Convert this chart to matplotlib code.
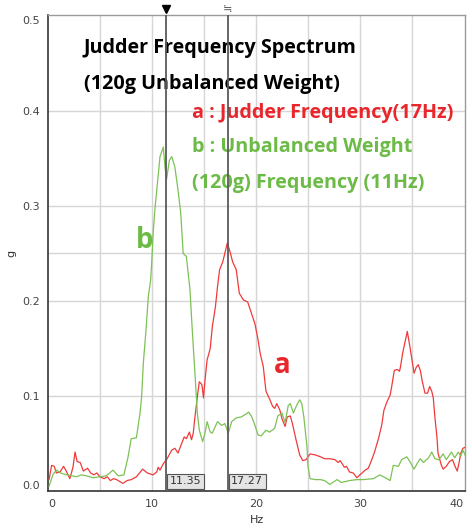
import matplotlib
matplotlib.use('Agg')
import matplotlib.pyplot as plt
import numpy as np

# unbalanced weight (120g) spectrum, b
freq_b = [0.1, 0.5, 0.83, 1.2, 1.8, 2.3, 2.76, 3.2, 3.7, 4.3, 5.0, 5.6, 6.25, 6.75, 7.3, 7.7,
          8.0, 8.5, 8.85, 9.0, 9.17, 9.42, 9.65, 9.87, 9.97, 10.13, 10.3, 10.55, 10.77, 11.09,
          11.25, 11.4, 11.67, 11.9, 12.2, 12.5, 12.76, 13.0, 13.3, 13.65, 13.8, 13.97, 14.13,
          14.36, 14.55, 14.87, 15.1, 15.3, 15.6, 15.8, 16.3, 16.7, 17.0, 17.34, 17.66, 18.1,
          18.6, 19.3, 19.6, 19.9, 20.2, 20.5, 20.96, 21.3, 21.8, 22.1, 22.5, 22.8, 23.1, 23.3,
          23.6, 23.9, 24.2, 24.4, 24.6, 24.9, 25.0, 25.2, 25.7, 26.2, 26.6, 27.1, 27.8, 28.2,
          29.0, 29.7, 30.3, 31.3, 31.9, 32.6, 32.9, 33.2, 33.7, 34.0, 34.5, 34.8, 35.2, 35.5,
          35.8, 36.1, 36.6, 36.9, 37.2, 37.6, 38.0, 38.3, 38.8, 39.1, 39.45, 39.7, 39.9, 40.1]
amp_b = [0.005, 0.018, 0.022, 0.019, 0.017, 0.016, 0.015, 0.017, 0.016, 0.014, 0.015, 0.016,
         0.022, 0.016, 0.017, 0.036, 0.055, 0.056, 0.082, 0.099, 0.135, 0.169, 0.205, 0.222,
         0.240, 0.275, 0.299, 0.327, 0.352, 0.362, 0.341, 0.328, 0.348, 0.352, 0.341, 0.317,
         0.293, 0.250, 0.247, 0.212, 0.183, 0.152, 0.124, 0.082, 0.064, 0.052, 0.061, 0.073,
         0.062, 0.061, 0.073, 0.069, 0.071, 0.061, 0.073, 0.077, 0.078, 0.083, 0.078, 0.069,
         0.059, 0.058, 0.064, 0.062, 0.066, 0.079, 0.082, 0.072, 0.090, 0.092, 0.082, 0.090,
         0.096, 0.092, 0.078, 0.047, 0.026, 0.013, 0.012, 0.012, 0.011, 0.007, 0.012, 0.009,
         0.011, 0.012, 0.012, 0.013, 0.017, 0.013, 0.011, 0.027, 0.026, 0.033, 0.036, 0.031,
         0.023, 0.029, 0.034, 0.030, 0.035, 0.041, 0.034, 0.033, 0.039, 0.033, 0.041, 0.035,
         0.041, 0.037, 0.043, 0.038]

# judder spectrum, a
freq_a = [0.1, 0.35, 0.6, 0.8, 1.15, 1.5, 1.8, 2.1, 2.4, 2.6, 2.8, 3.1, 3.4, 3.8, 4.1, 4.4,
          4.7, 5.0, 5.4, 5.7, 6.0, 6.3, 6.6, 6.9, 7.2, 7.6, 8.0, 8.5, 9.1, 9.55, 10.1, 10.45,
          10.6, 10.77, 11.1, 11.4, 11.9, 12.2, 12.5, 12.85, 13.1, 13.3, 13.6, 13.8, 13.97, 14.1,
          14.36, 14.55, 14.8, 14.95, 15.1, 15.3, 15.6, 15.8, 16.1, 16.3, 16.5, 16.8, 17.0, 17.24,
          17.5, 17.76, 18.1, 18.4, 18.8, 19.2, 19.5, 19.9, 20.2, 20.4, 20.7, 20.96, 21.3, 21.6,
          21.8, 22.0, 22.3, 22.5, 22.8, 23.0, 23.3, 23.5, 23.85, 24.2, 24.5, 24.8, 25.2, 25.7,
          26.2, 26.6, 27.1, 27.6, 27.9, 28.1, 28.5, 28.7, 29.0, 29.35, 29.7, 29.9, 30.2, 30.5,
          30.8, 31.1, 31.4, 31.8, 32.1, 32.3, 32.6, 32.9, 33.05, 33.3, 33.6, 33.8, 33.9, 34.1,
          34.3, 34.55, 34.8, 34.97, 35.2, 35.4, 35.6, 35.8, 36.0, 36.25, 36.5, 36.7, 36.9, 37.05,
          37.2, 37.4, 37.5, 37.8, 38.0, 38.3, 38.6, 38.9, 39.1, 39.35, 39.55, 39.7, 39.9, 40.1]
amp_a = [0.012, 0.027, 0.026, 0.019, 0.020, 0.026, 0.020, 0.013, 0.025, 0.041, 0.031, 0.030,
         0.021, 0.024, 0.019, 0.017, 0.019, 0.015, 0.013, 0.015, 0.011, 0.013, 0.012, 0.010,
         0.008, 0.011, 0.012, 0.015, 0.023, 0.019, 0.017, 0.020, 0.025, 0.022, 0.029, 0.033,
         0.043, 0.045, 0.040, 0.050, 0.057, 0.055, 0.062, 0.054, 0.061, 0.075, 0.099, 0.115,
         0.112, 0.098, 0.117, 0.138, 0.150, 0.173, 0.194, 0.215, 0.233, 0.241, 0.250, 0.261,
         0.252, 0.241, 0.233, 0.208, 0.201, 0.199, 0.189, 0.176, 0.159, 0.145, 0.131, 0.105,
         0.097, 0.089, 0.087, 0.092, 0.085, 0.076, 0.068, 0.078, 0.079, 0.071, 0.054, 0.038,
         0.032, 0.033, 0.039, 0.038, 0.036, 0.034, 0.034, 0.033, 0.030, 0.032, 0.025, 0.026,
         0.020, 0.019, 0.014, 0.016, 0.019, 0.022, 0.024, 0.032, 0.041, 0.056, 0.070, 0.085,
         0.094, 0.101, 0.110, 0.127, 0.128, 0.126, 0.131, 0.145, 0.155, 0.168, 0.152, 0.140,
         0.124, 0.130, 0.133, 0.127, 0.115, 0.103, 0.103, 0.110, 0.105, 0.098, 0.078, 0.057,
         0.040, 0.028, 0.023, 0.026, 0.031, 0.033, 0.027, 0.021, 0.031, 0.040, 0.045, 0.046]

cursors = [11.35, 17.27]
xticks = [0, 10, 20, 30, 40]
yticks = [0.0, 0.1, 0.2, 0.3, 0.4, 0.5]

RED = '#f03a3a'
GREEN = '#7cc255'
RED_TXT = '#e8262c'
GREEN_TXT = '#6cbb47'

fig = plt.figure(figsize=(4.72, 5.29), dpi=100)
ax = fig.add_axes([0.1017, 0.0718, 0.8835, 0.8998])
ax.set_xlim(0, 40.1)
ax.set_ylim(0, 0.501)

# grid
for gx in np.arange(5, 40, 5):
    ax.axvline(gx, color='#d6d6d6', lw=1.0, zorder=0)
for gy in [0.1, 0.2, 0.25, 0.3, 0.4]:
    ax.axhline(gy, color='#d6d6d6', lw=1.0, zorder=0)

ax.plot(freq_a, amp_a, color=RED, lw=0.9, zorder=3)
ax.plot(freq_b, amp_b, color=GREEN, lw=0.9, zorder=3)

# cursors
for c in cursors:
    ax.axvline(c, color='#5a5a5a', lw=1.3, zorder=4)
    ax.annotate(f'{c:.2f}', xy=(c, 0), xytext=(2.5, 3.5), textcoords='offset points',
                ha='left', va='bottom', fontsize=8, color='#333333', zorder=5,
                bbox=dict(boxstyle='square,pad=0.22', facecolor='#e4e4e4',
                          edgecolor='#555555', lw=0.8))
ax.plot([cursors[0]], [0.507], marker='v', color='black', markersize=6, clip_on=False)
ax.text(cursors[1], 0.507, '≒', ha='center', va='center', fontsize=8, color='#555555',
        family='DejaVu Sans', clip_on=False)

# axes styling
for side in ['left', 'bottom']:
    ax.spines[side].set_color('#333333')
    ax.spines[side].set_linewidth(1.2)
for side in ['top', 'right']:
    ax.spines[side].set_color('#9a9a9a')
    ax.spines[side].set_linewidth(1.0)
ax.set_xticks(xticks)
ax.set_yticks(yticks)
ax.set_xticklabels([str(t) for t in xticks])
ax.set_yticklabels([f'{t:.1f}' for t in yticks])
ax.tick_params(length=0, labelsize=8, labelcolor='#444444', pad=6)
ax.get_yticklabels()[0].set_va('bottom')
ax.get_yticklabels()[-1].set_va('top')
ax.get_xticklabels()[0].set_ha('left')
ax.get_xticklabels()[-1].set_ha('right')
ax.set_xlabel('Hz', fontsize=8, color='#333333', labelpad=4)
ax.set_ylabel('g', fontsize=8, color='#333333', labelpad=4)

# annotations
tfont = dict(family='Open Sans', weight='bold', fontsize=14.2)
ax.text(3.46, 0.461, 'Judder Frequency Spectrum', color='black', va='baseline', **tfont)
ax.text(3.46, 0.423, '(120g Unbalanced Weight)', color='black', va='baseline', **tfont)
ax.text(13.85, 0.393, 'a : Judder Frequency(17Hz)', color=RED_TXT, va='baseline', **tfont)
ax.text(13.85, 0.357, 'b : Unbalanced Weight', color=GREEN_TXT, va='baseline', **tfont)
ax.text(13.85, 0.319, '(120g) Frequency (11Hz)', color=GREEN_TXT, va='baseline', **tfont)
ax.text(9.3, 0.256, 'b', color=GREEN_TXT, ha='center', va='baseline',
        family='Open Sans', weight='bold', fontsize=20)
ax.text(22.5, 0.124, 'a', color=RED_TXT, ha='center', va='baseline',
        family='Open Sans', weight='bold', fontsize=20)

fig.savefig('out.png', dpi=100)
